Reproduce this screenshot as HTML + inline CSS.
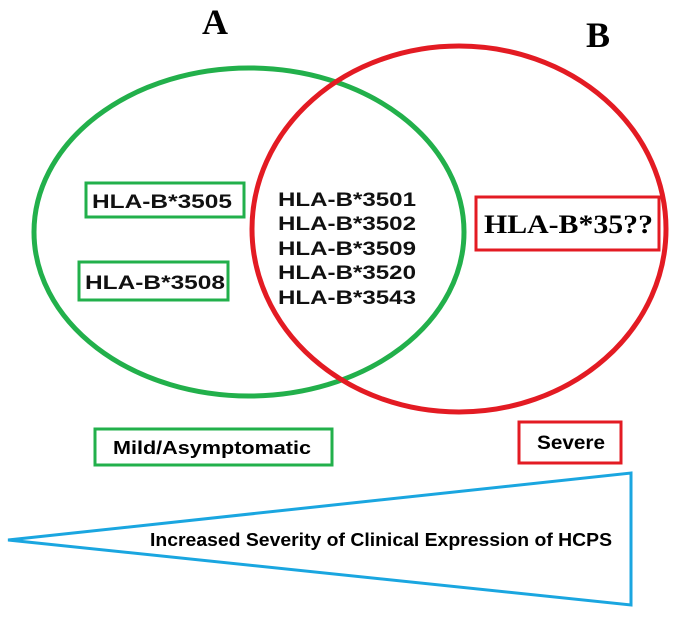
<!DOCTYPE html>
<html><head><style>
body{margin:0;background:#fff}
</style></head><body>
<svg width="683" height="623" xmlns="http://www.w3.org/2000/svg">
<rect width="683" height="623" fill="#fff"/>
<text x="215" y="34" font-family="Liberation Serif" font-weight="bold" font-size="36" text-anchor="middle">A</text>
<text x="598" y="47" font-family="Liberation Serif" font-weight="bold" font-size="36" text-anchor="middle">B</text>
<ellipse cx="249" cy="232" rx="215" ry="164" fill="none" stroke="#22b04b" stroke-width="5"/>
<ellipse cx="459" cy="229" rx="207" ry="183" fill="none" stroke="#e31b23" stroke-width="5"/>
<rect x="86" y="183" width="158" height="34" fill="none" stroke="#22b04b" stroke-width="3"/>
<rect x="79" y="262" width="149" height="38" fill="none" stroke="#22b04b" stroke-width="3"/>
<g font-family="Liberation Sans" font-weight="bold" font-size="19" fill="#111" lengthAdjust="spacingAndGlyphs">
<text x="92" y="208" textLength="140" lengthAdjust="spacingAndGlyphs">HLA-B*3505</text>
<text x="85" y="289" textLength="140" lengthAdjust="spacingAndGlyphs">HLA-B*3508</text>
<text x="278" y="206" textLength="138" lengthAdjust="spacingAndGlyphs">HLA-B*3501</text>
<text x="278" y="230" textLength="138" lengthAdjust="spacingAndGlyphs">HLA-B*3502</text>
<text x="278" y="255" textLength="138" lengthAdjust="spacingAndGlyphs">HLA-B*3509</text>
<text x="278" y="279" textLength="138" lengthAdjust="spacingAndGlyphs">HLA-B*3520</text>
<text x="278" y="304" textLength="138" lengthAdjust="spacingAndGlyphs">HLA-B*3543</text>
</g>
<rect x="476" y="197" width="183" height="53" fill="none" stroke="#e31b23" stroke-width="3"/>
<text x="484" y="233" font-family="Liberation Serif" font-weight="bold" font-size="26" textLength="169" lengthAdjust="spacingAndGlyphs">HLA-B*35??</text>
<rect x="95" y="429" width="237" height="36" fill="none" stroke="#22b04b" stroke-width="3"/>
<text x="113" y="454" font-family="Liberation Sans" font-weight="bold" font-size="18" textLength="198" lengthAdjust="spacingAndGlyphs">Mild/Asymptomatic</text>
<rect x="519" y="422" width="102" height="41" fill="none" stroke="#e31b23" stroke-width="3"/>
<text x="537" y="449" font-family="Liberation Sans" font-weight="bold" font-size="19" textLength="68" lengthAdjust="spacingAndGlyphs">Severe</text>
<polygon points="8,540 631,473 631,605" fill="none" stroke="#1aa6e0" stroke-width="3"/>
<text x="150" y="546" font-family="Liberation Sans" font-weight="bold" font-size="18" textLength="462" lengthAdjust="spacingAndGlyphs">Increased Severity of Clinical Expression of HCPS</text>
</svg>
</body></html>
